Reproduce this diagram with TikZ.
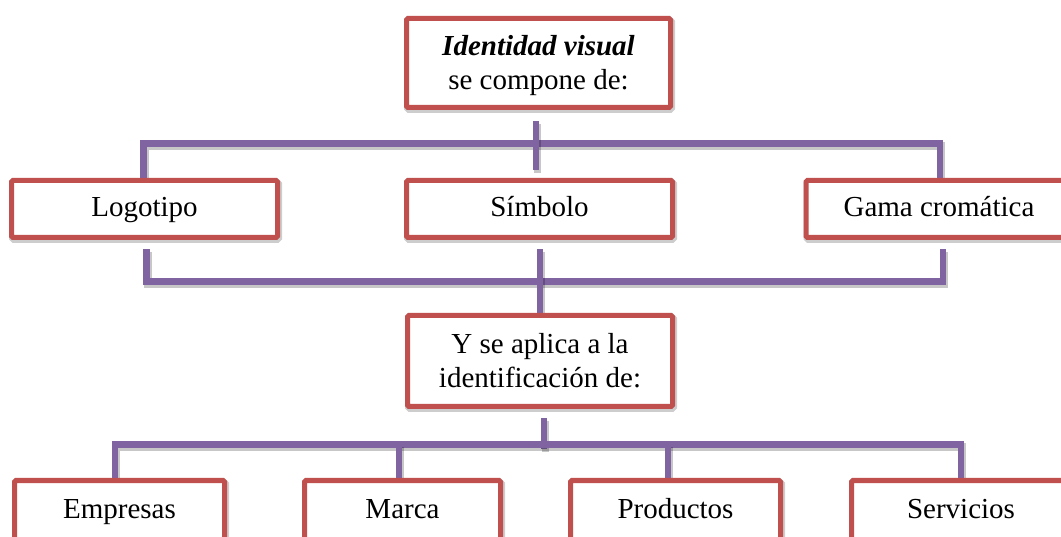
\documentclass[tikz,border=0pt]{standalone}
\usepackage{fontspec}
\setmainfont{Liberation Serif}
\definecolor{boxred}{HTML}{C0504D}
\definecolor{connpurple}{HTML}{8064A2}
\tikzset{
  box/.style={draw=boxred, line width=5pt, fill=white, rounded corners=1.5pt,
    inner sep=0pt, align=center, font=\fontsize{29}{34}\selectfont,
    preaction={draw=black, opacity=0.10, line width=7pt, fill=none,
      transform canvas={shift={(1pt,-2pt)}}}},
  onebox/.style={box, text height=22pt, text depth=6pt},
  conn/.style={draw=connpurple, line width=6.5pt, line join=miter,
    preaction={draw=black, opacity=0.22, line width=7.5pt,
      transform canvas={shift={(1.5pt,-2.5pt)}}}},
  ghost/.style={draw=none, fill=none, preaction={}}
}
\begin{document}
\begin{tikzpicture}[x=1pt,y=1pt]
\useasboundingbox (0,0) rectangle (1061,536);
\clip (0,0) rectangle (1061,536);
\fill[white] (0,0) rectangle (1061,536);
\path
  (538.5,473) coordinate (ctop)
  (144.5,327) coordinate (clogo)
  (539.5,327) coordinate (csimb)
  (939,327) coordinate (cgama)
  (540,175) coordinate (capl)
  (119.5,26) coordinate (cemp)
  (402.5,26) coordinate (cmarca)
  (675.5,26) coordinate (cprod)
  (961,26) coordinate (cserv);
% invisible nodes defining the anchors
\node[box, ghost, minimum width=264pt, minimum height=89pt] (top) at (ctop) {};
\node[box, ghost, minimum width=266pt, minimum height=57pt] (logo) at (clogo) {};
\node[box, ghost, minimum width=266pt, minimum height=57pt] (simb) at (csimb) {};
\node[box, ghost, minimum width=266pt, minimum height=57pt] (gama) at (cgama) {};
\node[box, ghost, minimum width=265pt, minimum height=91pt] (apl) at (capl) {};
\node[box, ghost, minimum width=210pt, minimum height=59pt] (emp) at (cemp) {};
\node[box, ghost, minimum width=196pt, minimum height=59pt] (marca) at (cmarca) {};
\node[box, ghost, minimum width=210pt, minimum height=59pt] (prod) at (cprod) {};
\node[box, ghost, minimum width=219pt, minimum height=59pt] (serv) at (cserv) {};
% connectors
\draw[conn] ([xshift=-1pt]logo.north) -- ++(0,34.5) -| ([xshift=1pt]gama.north);
\draw[conn] ([xshift=-2.5pt,yshift=-11.5pt]top.south) -- ([xshift=-3.5pt,yshift=7.5pt]simb.north);
\draw[conn] ([xshift=2pt,yshift=-9.5pt]logo.south) -- ++(0,-32) -| ([xshift=4pt,yshift=-9.5pt]gama.south);
\draw[conn] ([xshift=0.5pt,yshift=-9.5pt]simb.south) -- (apl.north);
\draw[conn] ([xshift=4pt,yshift=-9.5pt]apl.south) -- ++(0,-31);
\draw[conn] ([xshift=-4.5pt]emp.north) -- ++(0,33.5) -| (serv.north);
\draw[conn] ([xshift=-3.5pt]marca.north) -- ++(0,33.5);
\draw[conn] ([xshift=-7.5pt]prod.north) -- ++(0,33.5);
% boxes
\node[box, minimum width=264pt, minimum height=89pt] at (ctop) {\rule{0pt}{26pt}\textbf{\textit{Identidad visual}}\\se compone de:};
\node[onebox, minimum width=266pt, minimum height=57pt] at (clogo) {Logotipo};
\node[onebox, minimum width=266pt, minimum height=57pt] at (csimb) {Símbolo};
\node[onebox, minimum width=266pt, minimum height=57pt] at (cgama) {Gama cromática};
\node[box, minimum width=265pt, minimum height=91pt] at (capl) {Y se aplica a la\\identificación de:};
\node[onebox, minimum width=210pt, minimum height=59pt] at (cemp) {Empresas};
\node[onebox, minimum width=196pt, minimum height=59pt] at (cmarca) {Marca};
\node[onebox, minimum width=210pt, minimum height=59pt] at (cprod) {Productos};
\node[onebox, minimum width=219pt, minimum height=59pt] at (cserv) {Servicios};
\end{tikzpicture}
\end{document}
